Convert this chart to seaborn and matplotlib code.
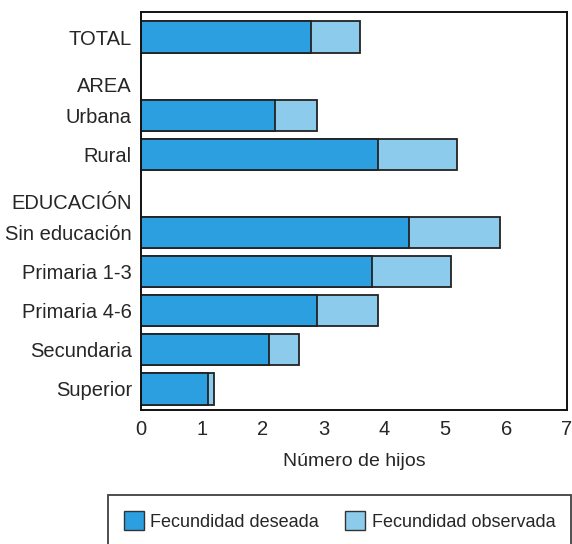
import matplotlib
matplotlib.use("Agg")
import matplotlib.pyplot as plt
import matplotlib.patches as mpatches
import seaborn as sns
import pandas as pd

# datos (número de hijos)
categorias = ["TOTAL", "Urbana", "Rural", "Sin educación", "Primaria 1-3",
              "Primaria 4-6", "Secundaria", "Superior"]
deseada = [2.8, 2.2, 3.9, 4.4, 3.8, 2.9, 2.1, 1.1]
observada = [3.6, 2.9, 5.2, 5.9, 5.1, 3.9, 2.6, 1.2]
orden = ["TOTAL", "AREA", "Urbana", "Rural", "EDUCACIÓN", "Sin educación",
         "Primaria 1-3", "Primaria 4-6", "Secundaria", "Superior"]
encabezados = {"AREA": 1.27, "EDUCACIÓN": 4.27}

c_des = "#2b9fe0"
c_obs = "#8ccbeb"

sns.set_style("white")
plt.rcParams['font.family'] = ['Liberation Sans', 'DejaVu Sans']

df = pd.DataFrame({"cat": categorias, "deseada": deseada, "observada": observada})

fig = plt.figure(figsize=(5.72, 5.44), dpi=100)
ax = fig.add_axes([141/572, 1 - 410/544, 426/572, 398/544])

# la barra clara (observada) va detrás, la oscura (deseada) encima
sns.barplot(data=df, y="cat", x="observada", order=orden, color=c_obs,
            edgecolor="#222222", linewidth=1.3, width=0.8, saturation=1, ax=ax)
sns.barplot(data=df, y="cat", x="deseada", order=orden, color=c_des,
            edgecolor="#222222", linewidth=1.3, width=0.8, saturation=1, ax=ax)

ax.set_xlim(0, 7)
ax.set_ylim(9.54, -0.64)
ax.set_xticks(range(8))
ax.tick_params(axis="both", length=0, labelsize=14.5)
ax.tick_params(axis="x", pad=7)
ax.tick_params(axis="y", pad=6.5)
ax.set_yticks([orden.index(c) for c in categorias])
ax.set_yticklabels(categorias)
for nombre, ypos in encabezados.items():
    ax.text(-0.021, ypos, nombre, ha="right", va="center", fontsize=14.5,
            transform=ax.get_yaxis_transform())
ax.set_xlabel("Número de hijos", fontsize=14, labelpad=10)
ax.set_ylabel("")
for s in ax.spines.values():
    s.set_visible(True)
    s.set_color("#111111")
    s.set_linewidth(1.4)

handles = [mpatches.Patch(facecolor=c_des, edgecolor="#333333", label="Fecundidad deseada"),
           mpatches.Patch(facecolor=c_obs, edgecolor="#333333", label="Fecundidad observada")]
leg = fig.legend(handles=handles, loc="upper left", bbox_to_anchor=(108/572, 1 - 495/544),
                 ncol=2, fontsize=13, frameon=True, fancybox=False, edgecolor="#111111",
                 handlelength=1.1, handleheight=1.2, handletextpad=0.35,
                 columnspacing=1.45, borderpad=0.9, borderaxespad=0)
leg.get_frame().set_linewidth(1.3)

fig.savefig("out.png", dpi=100)
